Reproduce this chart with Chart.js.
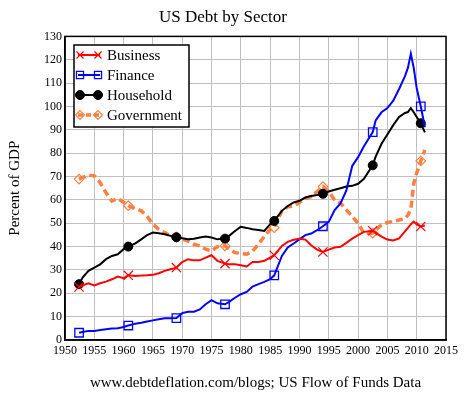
<!DOCTYPE html>
<html>
<head>
<meta charset="utf-8">
<script src="https://cdn.jsdelivr.net/npm/chart.js@4.4.1/dist/chart.umd.min.js"></script>
<style>
html,body{margin:0;padding:0;background:#fff;}
#wrap{width:467px;height:393px;position:relative;}
</style>
</head>
<body>
<div id="wrap"><canvas id="c" width="467" height="393"></canvas></div>
<script>
// ---- data (percent of GDP) ----
const years = [1952.4,1953,1954,1955,1956,1957,1958,1959,1960,1960.8,
  1962,1963,1964,1965,1966,1967,1968,1969,1970,1971,1972,1973,1974,1975,1976,
  1977.3,1978,1979,1980,1981,1982,1983,1984,1985,1985.7,
  1987,1988,1989,1990,1991,1992,1993,1994,1995,1996,1997,1998,1999,2000,2001,
  2002.5,2003,2004,2005,2006,2007,2008,2008.5,2009,2009.5,2010,2010.7,2011.4];

const business = [22.7,23.4,24.3,23.4,24.3,25,26,27.2,26.5,27.7,
  27.4,27.6,27.7,27.9,28.6,29.6,30.3,31,33.4,34.6,34.1,34.1,35.3,36.3,33.9,
  32.7,32.4,32.4,32,31.5,33.4,33.4,33.9,35.3,36.3,
  40.3,42,42.9,43.4,43,40.6,38.7,37.7,38.7,39.6,39.9,41.6,43.4,44.9,46.3,
  46.8,46,44.3,43,42.6,43.5,46.5,48,49.5,50.7,49.5,48.6,49];

const finance = [3.1,3.4,3.9,3.9,4.3,4.6,4.9,5,5.6,6.2,
  7,7.4,7.9,8.4,8.9,9.3,9.3,9.4,11.5,12.1,12.1,13.1,15.3,17.1,15.7,
  15.3,16.3,18.1,19.6,20.6,22.9,23.9,24.9,26,27.7,
  36,39.6,41.3,43.1,44.9,45.6,47,48.7,50.6,55.6,58.5,64,74.5,78.3,83,
  89,94,97.5,99.3,102.5,107.5,113,116.5,122.6,116.4,107.9,100,91.1];

const household = [23.9,26.7,29.6,31,32.4,34.6,36,36.7,38.9,40,
  41.4,43.1,44.9,46,45.7,45.3,44.6,44,43.6,43.1,43.4,43.9,44.3,43.9,43.1,
  43.4,44.6,46.7,48.5,48,47.4,47.1,46.7,49.6,51,
  55.3,57.4,58.9,59.6,61,61.7,62.1,62.6,63.6,64.3,65,65.7,66,66.9,69,
  74.8,78.5,84,88,92,95.5,97.2,97.6,99.3,97.5,95.5,92.8,88.9];

const government = [68.9,69.6,70.6,70.3,67.4,63,59.5,60.6,59,57.5,
  56.3,55.3,53,49.6,47.4,46,44.6,44,43.2,42.4,41,40.3,38.9,38.1,40,
  40.3,38.9,37.4,37.1,36.7,38.1,41,44.3,47.4,48.1,
  55.3,57,57.4,58.9,60.6,61.4,63.5,65.7,63.6,60,58.6,55.7,52.9,50,45.6,
  45.8,47,49.3,50.3,50.8,51.4,52,53.5,56,67,71.5,76.7,81.4];

const markerYears = [1952.4,1960.8,1969,1977.3,1985.7,1994,2002.5,2010.7];

const seriesNames = ['Business','Finance','Household','Government'];
const seriesColors = ['#ff0000','#0000ff','#000000','#ff8040'];

const xTicks = [1950,1955,1960,1965,1970,1975,1980,1985,1990,1995,2000,2005,2010,2015];
const yTicks = [0,10,20,30,40,50,60,70,80,90,100,110,120,130];

const titleText = 'US Debt by Sector';
const yTitle = 'Percent of GDP';
const xTitle = 'www.debtdeflation.com/blogs; US Flow of Funds Data';

// ---- helpers ----
const toPts = vals => years.map((y, i) => ({x: y, y: vals[i]}));
const radiusFor = r => ctx => markerYears.includes(years[ctx.dataIndex]) ? r : 0;

const styles = [
  {pointStyle: 'crossRot', r: 6.5, lr: 5, width: 2, dash: [], pbw: 1.2, fill: false},
  {pointStyle: 'rect', r: 6, lr: 5, width: 2, dash: [], pbw: 1.3, fill: false},
  {pointStyle: 'circle', r: 4.5, lr: 4.5, width: 2, dash: [], pbw: 1, fill: true},
  {pointStyle: 'rectRot', r: 4.8, lr: 4.5, width: 3.5, dash: [7, 4], pbw: 1.2, fill: false}
];
const allValues = [business, finance, household, government];

const datasets = allValues.map((vals, i) => ({
  label: seriesNames[i],
  data: toPts(vals),
  borderColor: seriesColors[i],
  backgroundColor: styles[i].fill ? seriesColors[i] : 'rgba(0,0,0,0)',
  borderWidth: styles[i].width,
  borderDash: styles[i].dash,
  pointStyle: styles[i].pointStyle,
  pointRadius: radiusFor(styles[i].r),
  pointHoverRadius: radiusFor(styles[i].r),
  pointBorderWidth: styles[i].pbw,
  pointBorderColor: seriesColors[i],
  pointBackgroundColor: styles[i].fill ? seriesColors[i] : 'rgba(255,255,255,0)',
  tension: 0,
  fill: false
}));

const SERIF = '"Liberation Serif", "Times New Roman", serif';

function drawMarker(ctx, style, x, y, r, color, fill, bw) {
  ctx.save();
  ctx.strokeStyle = color; ctx.fillStyle = color; ctx.lineWidth = bw; ctx.setLineDash([]);
  ctx.beginPath();
  if (style === 'crossRot') {
    const o = r * Math.SQRT1_2;
    ctx.moveTo(x - o, y - o); ctx.lineTo(x + o, y + o);
    ctx.moveTo(x - o, y + o); ctx.lineTo(x + o, y - o);
    ctx.stroke();
  } else if (style === 'rect') {
    const s = r * Math.SQRT1_2;
    ctx.rect(x - s, y - s, 2 * s, 2 * s);
    ctx.stroke();
  } else if (style === 'circle') {
    ctx.arc(x, y, r, 0, Math.PI * 2);
    ctx.fill(); ctx.stroke();
  } else if (style === 'rectRot') {
    ctx.moveTo(x - r, y); ctx.lineTo(x, y - r); ctx.lineTo(x + r, y); ctx.lineTo(x, y + r); ctx.closePath();
    ctx.stroke();
  }
  ctx.restore();
}

const framePlugin = {
  id: 'frameAndLegend',
  afterDatasetsDraw(chart) {
    const {ctx, chartArea: a} = chart;
    ctx.save();
    ctx.strokeStyle = '#000'; ctx.lineWidth = 1.5; ctx.setLineDash([]);
    ctx.strokeRect(a.left, a.top, a.right - a.left, a.bottom - a.top);
    // legend box
    const bx = 74, by = 45, bw = 115, bh = 82;
    ctx.fillStyle = '#fff';
    ctx.fillRect(bx, by, bw, bh);
    ctx.lineWidth = 1.5;
    ctx.strokeRect(bx, by, bw, bh);
    ctx.font = '15px ' + SERIF;
    ctx.textBaseline = 'middle';
    ctx.textAlign = 'left';
    chart.data.datasets.forEach((ds, i) => {
      const cy = by + 10 + i * 20;
      const st = styles[i];
      ctx.save();
      ctx.strokeStyle = ds.borderColor;
      ctx.lineWidth = st.width;
      ctx.setLineDash(st.dash.length ? [5, 3] : []);
      ctx.beginPath(); ctx.moveTo(78, cy); ctx.lineTo(100, cy); ctx.stroke();
      ctx.restore();
      drawMarker(ctx, st.pointStyle, 80, cy, st.lr, ds.borderColor, st.fill, st.pbw);
      drawMarker(ctx, st.pointStyle, 98, cy, st.lr, ds.borderColor, st.fill, st.pbw);
      ctx.fillStyle = '#000';
      ctx.fillText(ds.label, 107, cy + 1);
    });
    ctx.restore();
  }
};

new Chart(document.getElementById('c'), {
  type: 'line',
  data: {datasets},
  options: {
    responsive: false,
    animation: false,
    events: [],
    layout: {padding: {left: 0, right: 21, top: 0, bottom: 0}},
    plugins: {
      legend: {display: false},
      tooltip: {enabled: false},
      title: {
        display: true, text: titleText, color: '#000',
        font: {family: SERIF, size: 17, weight: 'normal'},
        padding: {top: 7, bottom: 9}
      }
    },
    scales: {
      x: {
        type: 'linear', min: 1950, max: 2015,
        afterFit: s => { s.height = 53; },
        afterBuildTicks: s => { s.ticks = xTicks.map(v => ({value: v})); },
        ticks: {color: '#000', font: {family: SERIF, size: 12}, padding: 4, maxRotation: 0, autoSkip: false,
          callback: v => String(v)},
        grid: {color: '#c0c0c0', lineWidth: 1, drawTicks: false},
        border: {display: true, color: '#000', width: 1.5},
        title: {display: true, text: xTitle, color: '#000', font: {family: SERIF, size: 15}, padding: {top: 0, bottom: 1}}
      },
      y: {
        type: 'linear', min: 0, max: 130,
        afterFit: s => { s.width = 65; },
        afterBuildTicks: s => { s.ticks = yTicks.map(v => ({value: v})); },
        ticks: {color: '#000', font: {family: SERIF, size: 12}, padding: 3, autoSkip: false},
        grid: {color: '#c0c0c0', lineWidth: 1, drawTicks: false},
        border: {display: true, color: '#000', width: 1.5},
        title: {display: true, text: yTitle, color: '#000', font: {family: SERIF, size: 15}, padding: {top: 6, bottom: 0}}
      }
    }
  },
  plugins: [framePlugin]
});
</script>
</body>
</html>
